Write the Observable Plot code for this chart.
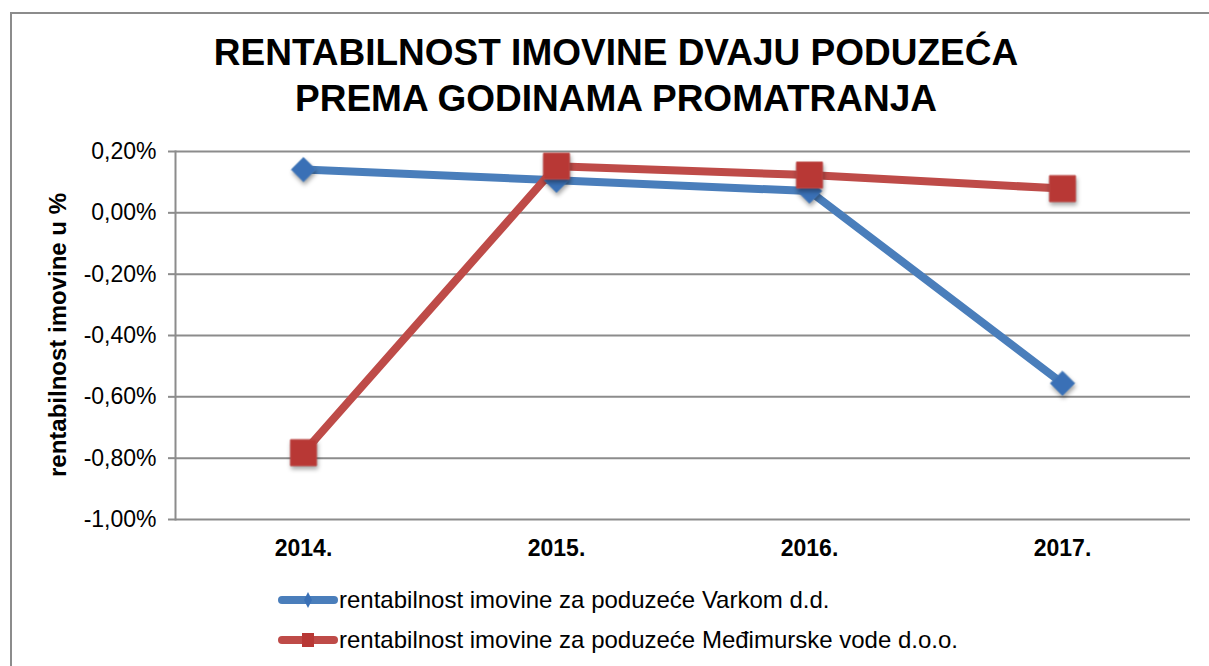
<!DOCTYPE html>
<html>
<head>
<meta charset="utf-8">
<script src="https://cdn.jsdelivr.net/npm/d3@7"></script>
<script src="https://cdn.jsdelivr.net/npm/@observablehq/plot@0.6"></script>
<style>
  html, body { margin: 0; padding: 0; background: #fff; width: 1209px; height: 666px; overflow: hidden; font-family: "Liberation Sans", Arial, sans-serif; }
  #frame { position: absolute; left: 10px; top: 12px; width: 1220px; height: 700px; border-left: 2px solid #8c8c8c; border-top: 2px solid #8c8c8c; }
  #title { position: absolute; left: 10px; top: 30px; width: 1212px; text-align: center; font-weight: bold; font-size: 37px; line-height: 46px; color: #000; }
  #ytitle { position: absolute; left: 58px; top: 335px; transform: translate(-50%, -50%) rotate(-90deg); white-space: nowrap; font-weight: bold; font-size: 24px; color: #000; }
  #chart { position: absolute; left: 0; top: 130px; }
  #legend { position: absolute; left: 278px; top: 580px; font-size: 24px; color: #000; }
  .row { display: flex; align-items: center; height: 40px; }
  .row svg { margin-right: 1px; }
</style>
</head>
<body>
<div id="frame"></div>
<div id="title"></div>
<div id="ytitle"></div>
<div id="chart"></div>
<div id="legend"></div>
<script>
const titleLines = ["RENTABILNOST IMOVINE DVAJU PODUZEĆA", "PREMA GODINAMA PROMATRANJA"];
const yAxisTitle = "rentabilnost imovine u %";
const years = ["2014.", "2015.", "2016.", "2017."];
const seriesNames = [
  "rentabilnost imovine za poduzeće Varkom d.d.",
  "rentabilnost imovine za poduzeće Međimurske vode d.o.o."
];
const varkom = [0.141, 0.106, 0.071, -0.556];
const medjimurske = [-0.782, 0.152, 0.123, 0.079];
const yTicks = [-1.0, -0.8, -0.6, -0.4, -0.2, 0.0, 0.2];
const colors = ["#4a7ebb", "#be4b48"];
const markerFills = ["#3a70b6", "#b83835"];
const symbols = ["diamond2", "square"];

document.getElementById("title").innerHTML = titleLines.join("<br>");
document.getElementById("ytitle").textContent = yAxisTitle;

const data = [];
years.forEach((yr, i) => {
  data.push({year: yr, value: varkom[i], series: seriesNames[0]});
});
years.forEach((yr, i) => {
  data.push({year: yr, value: medjimurske[i], series: seriesNames[1]});
});

const fmt = d => d3.format(".2f")(d).replace("\u2212", "-").replace(".", ",") + "%";

const chart = Plot.plot({
  width: 1209,
  height: 440,
  marginTop: 21,
  marginBottom: 51,
  marginLeft: 175,
  marginRight: 19,
  style: {fontFamily: "'Liberation Sans', Arial, sans-serif", background: "transparent"},
  x: {type: "point", domain: years, padding: 0.5, label: null},
  y: {domain: [-1.0, 0.2], label: null},
  color: {domain: seriesNames, range: colors},
  marks: [
    Plot.gridY(yTicks, {stroke: "#8c8c8c", strokeOpacity: 1, strokeWidth: 2}),
    Plot.frame({anchor: "left", stroke: "#8c8c8c", strokeWidth: 2}),
    Plot.axisY(yTicks, {tickSize: 7, tickPadding: 12, tickFormat: fmt, fontSize: 23, stroke: "#8c8c8c", strokeWidth: 2, fill: "#000", label: null}),
    Plot.axisX(years, {tickSize: 0, tickPadding: 20, fontSize: 23, fontWeight: "bold", fill: "#000", label: null}),
    Plot.line(data, {x: "year", y: "value", z: "series", stroke: "series", strokeWidth: 8, strokeLinejoin: "round"}),
    Plot.dot(data.filter(d => d.series === seriesNames[0]), {x: "year", y: "value", symbol: () => symbols[0], r: 11, fill: markerFills[0], stroke: colors[0], strokeWidth: 1}),
    Plot.dot(data.filter(d => d.series === seriesNames[1]), {x: "year", y: "value", symbol: () => symbols[1], r: 14.7, fill: markerFills[1], stroke: colors[1], strokeWidth: 1})
  ]
});
document.getElementById("chart").appendChild(chart);

// drop shadow on markers
d3.select(chart).selectAll("g[aria-label='dot']").style("filter", "drop-shadow(1px 3px 2px rgba(0,0,0,0.35))");

// legend
const legend = d3.select("#legend");
seriesNames.forEach((name, i) => {
  const row = legend.append("div").attr("class", "row");
  const svg = row.append("svg").attr("width", 60).attr("height", 20);
  svg.append("line").attr("x1", 4).attr("x2", 56).attr("y1", 10).attr("y2", 10)
    .attr("stroke", colors[i]).attr("stroke-width", 8).attr("stroke-linecap", "round");
  if (i === 0) {
    svg.append("path").attr("d", "M30,2 L34,10 L30,18 L26,10 Z").attr("fill", markerFills[0]);
  } else {
    svg.append("rect").attr("x", 24).attr("y", 3).attr("width", 12).attr("height", 14).attr("fill", markerFills[1]);
  }
  row.append("span").text(name);
});
</script>
</body>
</html>
